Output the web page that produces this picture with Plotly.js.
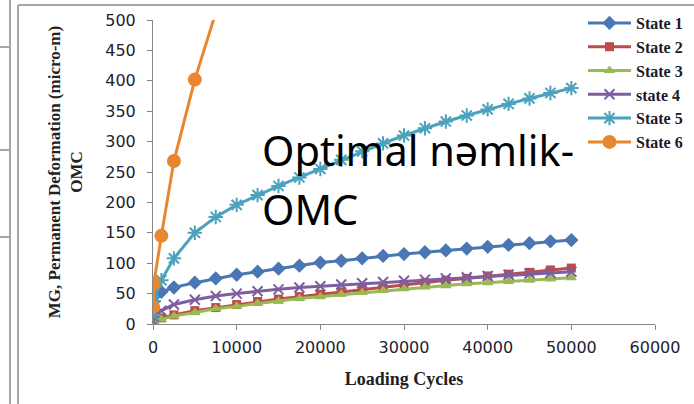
<!DOCTYPE html>
<html>
<head>
<meta charset="utf-8">
<script src="https://cdn.plot.ly/plotly-3.0.1.min.js"></script>
<style>html,body{margin:0;padding:0;background:#fff;}#chart{width:694px;height:404px;}</style>
</head>
<body>
<div id="chart"></div>
<script>
// Loading cycles (x values)
const cycles = [10, 100, 1000, 2500, 5000, 7500, 10000, 12500, 15000, 17500, 20000, 22500, 25000,
                27500, 30000, 32500, 35000, 37500, 40000, 42500, 45000, 47500, 50000];
// Permanent deformation (micro-m) per state
const state1 = [36, 45, 53, 60, 68, 75, 81, 86, 91, 96, 101, 104, 108, 112, 115, 118, 121, 124, 127, 130, 133, 136, 138];
const state2 = [3, 5, 10, 15, 22, 27, 32, 37, 41, 45, 49, 53, 57, 61, 65, 68, 72, 75, 79, 82, 85, 89, 92];
const state3 = [2, 4, 8, 13, 19, 25, 29, 34, 38, 42, 45, 49, 52, 55, 58, 61, 63, 66, 68, 70, 72, 74, 76];
const state4 = [5, 12, 22, 32, 40, 46, 50, 54, 57, 60, 62, 65, 67, 69, 71, 73, 75, 77, 79, 81, 83, 84, 86];
const state5 = [15, 38, 72, 108, 150, 176, 196, 212, 227, 241, 255, 270, 284, 297, 310, 322, 333, 343, 353, 362, 371, 380, 388];
const state6 = [28, 67, 145, 268, 402, 512];
const seriesNames = ['State 1', 'State 2', 'State 3', 'state 4', 'State 5', 'State 6'];
const xTickVals = [0, 10000, 20000, 30000, 40000, 50000, 60000];
const yTickVals = [0, 50, 100, 150, 200, 250, 300, 350, 400, 450, 500];

const colors = ['#4A76B4', '#BE4B48', '#98B954', '#7D5FA0', '#4BA2BE', '#E8872F'];
const symbols = ['diamond', 'square', 'triangle-up', 'x-thin-open', 'asterisk-open', 'circle'];
const sizes = [11, 9, 10, 10, 12, 14];
const ys = [state1, state2, state3, state4, state5, state6];

const traces = ys.map((y, i) => {
  const open = symbols[i].endsWith('-open');
  return {
    type: 'scatter', mode: 'lines+markers', name: seriesNames[i], legendgroup: 'g' + i,
    x: cycles.slice(0, y.length), y: y,
    line: {color: colors[i], width: 3},
    marker: {symbol: symbols[i], size: sizes[i], color: colors[i],
             line: open ? {color: colors[i], width: 2} : {width: 0}},
    cliponaxis: true
  };
});

const px2x = p => (p - 153) / 502;
const px2y = p => (324 - p) / 304;
const frame = '#a6a6a6';
const shapes = [
  {type: 'line', xref: 'paper', yref: 'paper', x0: px2x(10), x1: px2x(10), y0: px2y(0), y1: px2y(404), line: {color: frame, width: 2}},
  {type: 'line', xref: 'paper', yref: 'paper', x0: px2x(18), x1: px2x(18), y0: px2y(5), y1: px2y(404), line: {color: frame, width: 2}},
  {type: 'line', xref: 'paper', yref: 'paper', x0: px2x(18), x1: px2x(694), y0: px2y(5), y1: px2y(5), line: {color: frame, width: 2}},
  {type: 'line', xref: 'paper', yref: 'paper', x0: px2x(0), x1: px2x(10), y0: px2y(47), y1: px2y(47), line: {color: frame, width: 2}},
  {type: 'line', xref: 'paper', yref: 'paper', x0: px2x(0), x1: px2x(10), y0: px2y(150), y1: px2y(150), line: {color: frame, width: 2}},
  {type: 'line', xref: 'paper', yref: 'paper', x0: px2x(0), x1: px2x(10), y0: px2y(237), y1: px2y(237), line: {color: frame, width: 2}}
];

const tickFont = {family: 'DejaVu Sans', size: 16, color: '#222233'};
const layout = {
  width: 694, height: 404,
  margin: {l: 153, r: 39, t: 20, b: 80, pad: 0, autoexpand: false},
  paper_bgcolor: '#fff', plot_bgcolor: '#fff',
  showlegend: true,
  legend: {x: px2x(583), y: px2y(6), xanchor: 'left', yanchor: 'top', bgcolor: 'rgba(0,0,0,0)',
           font: {family: 'Liberation Serif', size: 16, color: '#1a1a2a', weight: 'bold'}, tracegroupgap: 0, itemwidth: 43},
  xaxis: {range: [0, 60000], tickvals: xTickVals, ticktext: xTickVals.map(String), showgrid: false, zeroline: false,
          showline: true, linecolor: '#868686', linewidth: 1, ticks: 'outside', ticklen: 5, tickcolor: '#868686',
          tickfont: tickFont, ticklabelstandoff: 4, automargin: false,
          title: {text: 'Loading Cycles', font: {family: 'Liberation Serif', size: 18, color: '#222', weight: 'bold'}, standoff: 16}},
  yaxis: {range: [0, 500], tickvals: yTickVals, ticktext: yTickVals.map(String), showgrid: false, zeroline: false,
          showline: true, linecolor: '#868686', linewidth: 1, ticks: 'outside', ticklen: 5, tickcolor: '#868686',
          tickfont: tickFont, ticklabelstandoff: 8, automargin: false,
          title: {text: 'MG, Permanent Deformation (micro-m)<br>OMC', font: {family: 'Liberation Serif', size: 17, color: '#222', weight: 'bold'}, standoff: 18}},
  shapes: shapes,
  annotations: [
    {text: 'Optimal nəmlik-', xref: 'paper', yref: 'paper', x: px2x(260), y: px2y(150), xanchor: 'left', yanchor: 'middle',
     showarrow: false, font: {family: 'Noto Sans', size: 41.5, color: '#000'}},
    {text: 'OMC', xref: 'paper', yref: 'paper', x: px2x(260), y: px2y(209), xanchor: 'left', yanchor: 'middle',
     showarrow: false, font: {family: 'Noto Sans', size: 41.5, color: '#000'}}
  ]
};

Plotly.newPlot('chart', traces, layout, {displayModeBar: false, staticPlot: true});
</script>
</body>
</html>
